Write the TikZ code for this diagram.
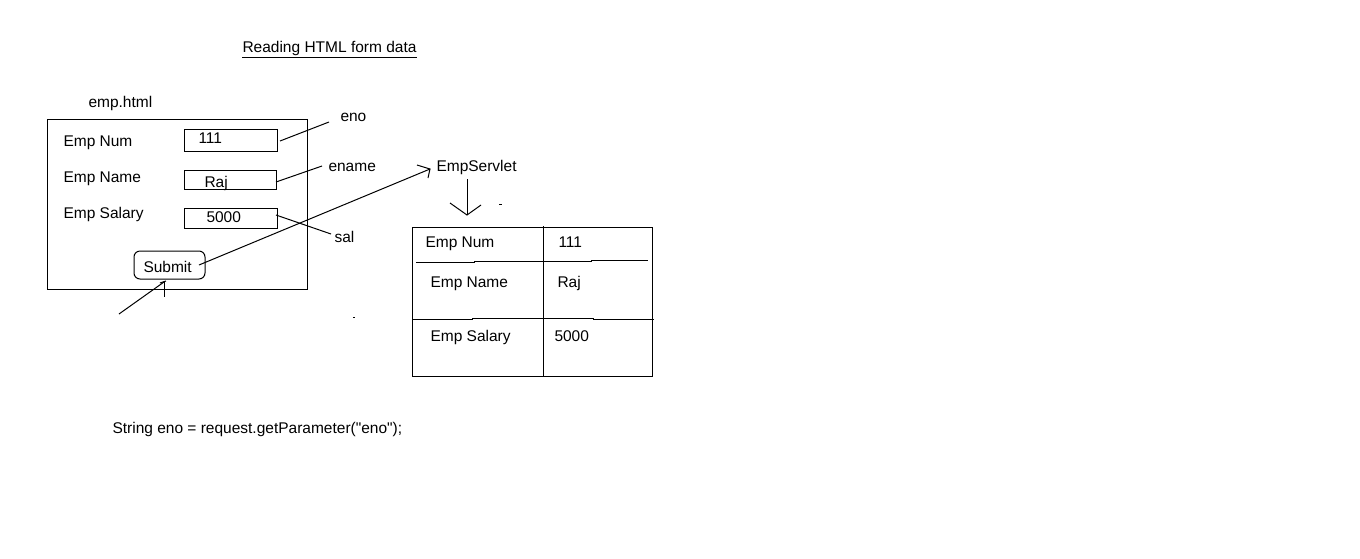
\documentclass[tikz,border=0pt]{standalone}
\usepackage{fontspec}
\setmainfont{Liberation Sans}
\newfontfamily\codefont{Liberation Sans}[Ligatures=TeXOff]
\begin{document}
\begin{tikzpicture}[x=1pt,y=-1pt,line width=1pt,
  lbl/.style={anchor=base west,inner sep=0pt,font=\fontsize{15.5}{18}\selectfont},
  box/.style={draw,line width=1pt},
  conn/.style={line width=1pt}]
\useasboundingbox[fill=white] (0,0) rectangle (1360,558);
% title
\node[lbl] (title) at (242,52) {Reading HTML form data};
\draw[conn] (title.south west)++(0,2) coordinate (ul1) -- (ul1 -| title.south east);
% form
\node[lbl] (emphtml) at (88,107) {emp.html};
\draw[box] (47,119) rectangle (307,289);
\node[lbl] (fnum) at (63,146) {Emp Num};
\node[lbl] (fname) at (63,182) {Emp Name};
\node[lbl] (fsal) at (63,218) {Emp Salary};
\draw[box] (184,129) coordinate (b1a) rectangle (277,151) coordinate (b1b);
\draw[box] (184,170) coordinate (b2a) rectangle (276,189) coordinate (b2b);
\draw[box] (184,208) coordinate (b3a) rectangle (277,228) coordinate (b3b);
\node[lbl] (v1) at (198,143) {111};
\node[lbl] (v2) at (204,187) {Raj};
\node[lbl] (v3) at (206,222) {5000};
\node[draw,rounded corners=6pt,minimum width=71pt,minimum height=28pt,inner sep=0pt] (submit) at (169.5,265) {};
\node[lbl] (submittxt) at (143,272) {Submit};
% labels
\node[lbl] (eno) at (340,121) {eno};
\node[lbl] (ename) at (328,171) {ename};
\node[lbl] (sal) at (334,242) {sal};
\coordinate (c1a) at (280,141); \coordinate (c1b) at (329,122);
\coordinate (c2a) at (276,182); \coordinate (c2b) at (322,166);
\coordinate (c3a) at (276,215); \coordinate (c3b) at (331,234);
\draw[conn] (c1a) -- (c1b);
\draw[conn] (c2a) -- (c2b);
\draw[conn] (c3a) -- (c3b);
% submit arrow
\node[lbl] (servlet) at (436,171) {EmpServlet};
\coordinate (s0) at (199,265);
\coordinate (tip) at (430,169);
\draw[conn] (s0) -- (tip);
\draw[conn] (417,165) -- (tip) -- (428,178);
% arrow into submit
\coordinate (in0) at (119,314);
\coordinate (in1) at (164,282);
\draw[conn] (in0) -- (in1);
\draw[conn] (164,282) -- (164,297);
\draw[conn] (160,283) -- (166,281);
% down arrow
\coordinate (d0) at (467,179);
\coordinate (d1) at (467,214);
\draw[conn] (d0) -- (d1);
\draw[conn] (450,203) -- (467,215) -- (481,205);
\draw[conn] (499,204) -- (502,204);
\draw[conn] (353,317) -- (355,317);
% table
\draw[box] (412,227) rectangle (652,376);
\draw[conn] (543,226) -- (543,376);
\draw[conn] (416,262) -- (474,262) -- (474,261) -- (591,261) -- (591,260) -- (648,260);
\draw[conn] (412,319) -- (472,319) -- (472,318) -- (593,318) -- (593,319) -- (654,319);
\node[lbl] (t1) at (425,247) {Emp Num};
\node[lbl] (t1v) at (558,247) {111};
\node[lbl] (t2) at (430,287) {Emp Name};
\node[lbl] (t2v) at (557,287) {Raj};
\node[lbl] (t3) at (430,341) {Emp Salary};
\node[lbl] (t3v) at (554,341) {5000};
% code
\node[lbl] (code) at (112,433) {\codefont String eno = request.getParameter("eno");};
\end{tikzpicture}
\end{document}
